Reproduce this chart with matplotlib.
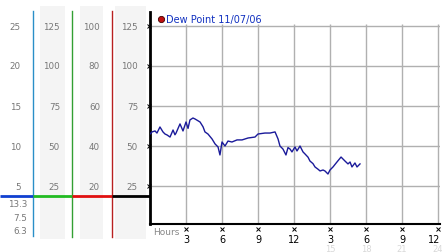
import numpy as np
import matplotlib.pyplot as plt
import matplotlib.transforms as mtransforms

# dew point trace (hours since midnight, degrees F)
hours = [0.0, 0.17, 0.42, 0.58, 0.83, 1.08, 1.25, 1.42, 1.67, 1.92, 2.08, 2.17, 2.5, 2.75,
         3.0, 3.17, 3.33, 3.58, 3.75, 4.17, 4.42, 4.58, 4.83, 5.17, 5.42, 5.67, 5.83,
         6.0, 6.25, 6.5, 6.83, 7.25, 7.67, 8.17, 8.75, 9.0, 9.58, 10.0, 10.42, 10.67,
         10.83, 11.08, 11.33, 11.5, 11.67, 11.83, 12.08, 12.25, 12.5, 12.75, 12.92,
         13.17, 13.33, 13.58, 13.75, 14.0, 14.17, 14.42, 14.58, 14.83, 15.0, 15.25,
         15.42, 15.58, 15.92, 16.25, 16.5, 16.67, 16.83, 17.08, 17.25, 17.5]
dew = [57.5, 58.8, 59.4, 58.1, 61.9, 58.8, 57.5, 56.9, 55.6, 60.0, 57.0, 58.1, 63.8, 59.4,
       65.0, 61.0, 66.3, 67.5, 66.9, 65.0, 62.0, 58.8, 57.5, 54.4, 51.3, 49.4, 44.4,
       52.5, 50.0, 53.1, 52.5, 53.8, 53.8, 55.0, 55.6, 57.5, 58.1, 58.1, 58.8, 54.4,
       50.0, 48.1, 44.4, 49.0, 48.1, 46.3, 49.4, 46.9, 50.0, 46.3, 45.0,
       43.0, 40.6, 39.0, 36.9, 35.5, 34.4, 35.0, 34.4, 32.5, 35.0, 36.9,
       38.5, 40.0, 43.1, 40.6, 38.8, 40.0, 36.9, 39.4, 36.9, 38.8]

x_ticks = [3, 6, 9, 12, 15, 18, 21, 24]
x_labels = ['3', '6', '9', '12', '3', '6', '9', '12']
x_labels_24 = ['15', '18', '21', '24']
y_ticks = [25, 50, 75, 100, 125]

# scales in the left-hand panel (pixel rows shared with the main y axis)
col1 = ['25', '20', '15', '10', '5']
col2 = ['125', '100', '75', '50', '25']
col3 = ['100', '80', '60', '40', '20']
col4 = ['125', '100', '75', '50', '25']
below = ['13.3', '7.5', '6.3']

W, H = 442, 253
fig = plt.figure(figsize=(W / 100, H / 100), dpi=100)
bg = fig.add_axes([0, 0, 1, 1])
bg.set_xlim(0, W)
bg.set_ylim(H, 0)
bg.axis('off')

label_col = '#777777'
fs = 6.3
rows = [27, 66, 107, 147, 187]

# gray columns
for x0, x1 in [(40, 65), (80, 103), (115, 146)]:
    bg.add_patch(plt.Rectangle((x0, 7), x1 - x0, 233, color='#f4f4f4', lw=0))

# vertical coloured scale lines
bg.plot([33, 33], [12, 237], color='#2a8fc8', lw=1)
bg.plot([72, 72], [12, 238], color='#33a033', lw=1)
bg.plot([111.5, 111.5], [12, 238], color='#b82020', lw=1)
# horizontal freezing line
bg.plot([0, 33], [197, 197], color='#1040d0', lw=2, solid_capstyle='butt')
bg.plot([33, 72], [197, 197], color='#22bb22', lw=2, solid_capstyle='butt')
bg.plot([72, 112], [197, 197], color='#e01010', lw=2, solid_capstyle='butt')
bg.plot([112, 150], [197, 197], color='black', lw=2, solid_capstyle='butt')

for xr, labels in [(21, col1), (60, col2), (100, col3), (138, col4)]:
    for yy, t in zip(rows, labels):
        bg.text(xr, yy, t, ha='right', va='center', fontsize=fs, color=label_col)
for yy, t in zip([205, 219, 232], below):
    bg.text(27, yy, t, ha='right', va='center', fontsize=fs, color=label_col)

# main chart
ax = fig.add_axes([150 / W, 1 - 225 / H, 290 / W, 212 / H])
ax.set_xlim(0, 290 / 12)
ax.set_ylim(1.25, 133.75)
ax.patch.set_alpha(0)
for s in ['top', 'right']:
    ax.spines[s].set_visible(False)
ax.spines['left'].set_linewidth(2)
ax.spines['bottom'].set_linewidth(1.5)

for yv in y_ticks:
    ax.axhline(yv, color='#b0b0b0', lw=1, zorder=1)
ax.vlines(x_ticks, 1.25, 126.5, color='#b0b0b0', lw=1, zorder=1)

ax.plot(hours, dew, color='#1a1a9a', lw=1.0, zorder=3)

ax.set_yticks(y_ticks)
ax.set_yticklabels([])
ax.tick_params(axis='y', length=0)
ax.plot([-0.12] * len(y_ticks), y_ticks, 'x', color='black', ms=2.2, mew=0.7,
        clip_on=False, zorder=4)

ax.set_xticks(x_ticks)
ax.set_xticklabels(x_labels, fontsize=7, color='black')
ax.tick_params(axis='x', length=0, pad=7.5)
last = ax.get_xticklabels()[-1]
last.set_horizontalalignment('right')
last.set_transform(last.get_transform() +
                   mtransforms.ScaledTranslation(2 / 100, 0, fig.dpi_scale_trans))
trans = mtransforms.blended_transform_factory(ax.transData, ax.transAxes)
ax.plot(x_ticks, [-0.024] * len(x_ticks), 'x', color='black', ms=2.2, mew=0.7,
        transform=trans, clip_on=False)
for xv, t in zip(x_ticks[4:], x_labels_24):
    ax.text(xv, -0.093, t, transform=trans, ha='center', va='top',
            fontsize=6, color='#d8d8d8')
ax.text(0.3, -0.035, 'Hours', transform=trans, ha='left', va='center',
        fontsize=6.5, color='#888888')

# legend
bg.plot([161], [20], 'o', color='#c01010', mec='#400000', ms=4.5, mew=0.6)
bg.text(166, 20, 'Dew Point 11/07/06', ha='left', va='center', fontsize=7,
        color='#1030c0')

fig.savefig('out.png', dpi=100)
